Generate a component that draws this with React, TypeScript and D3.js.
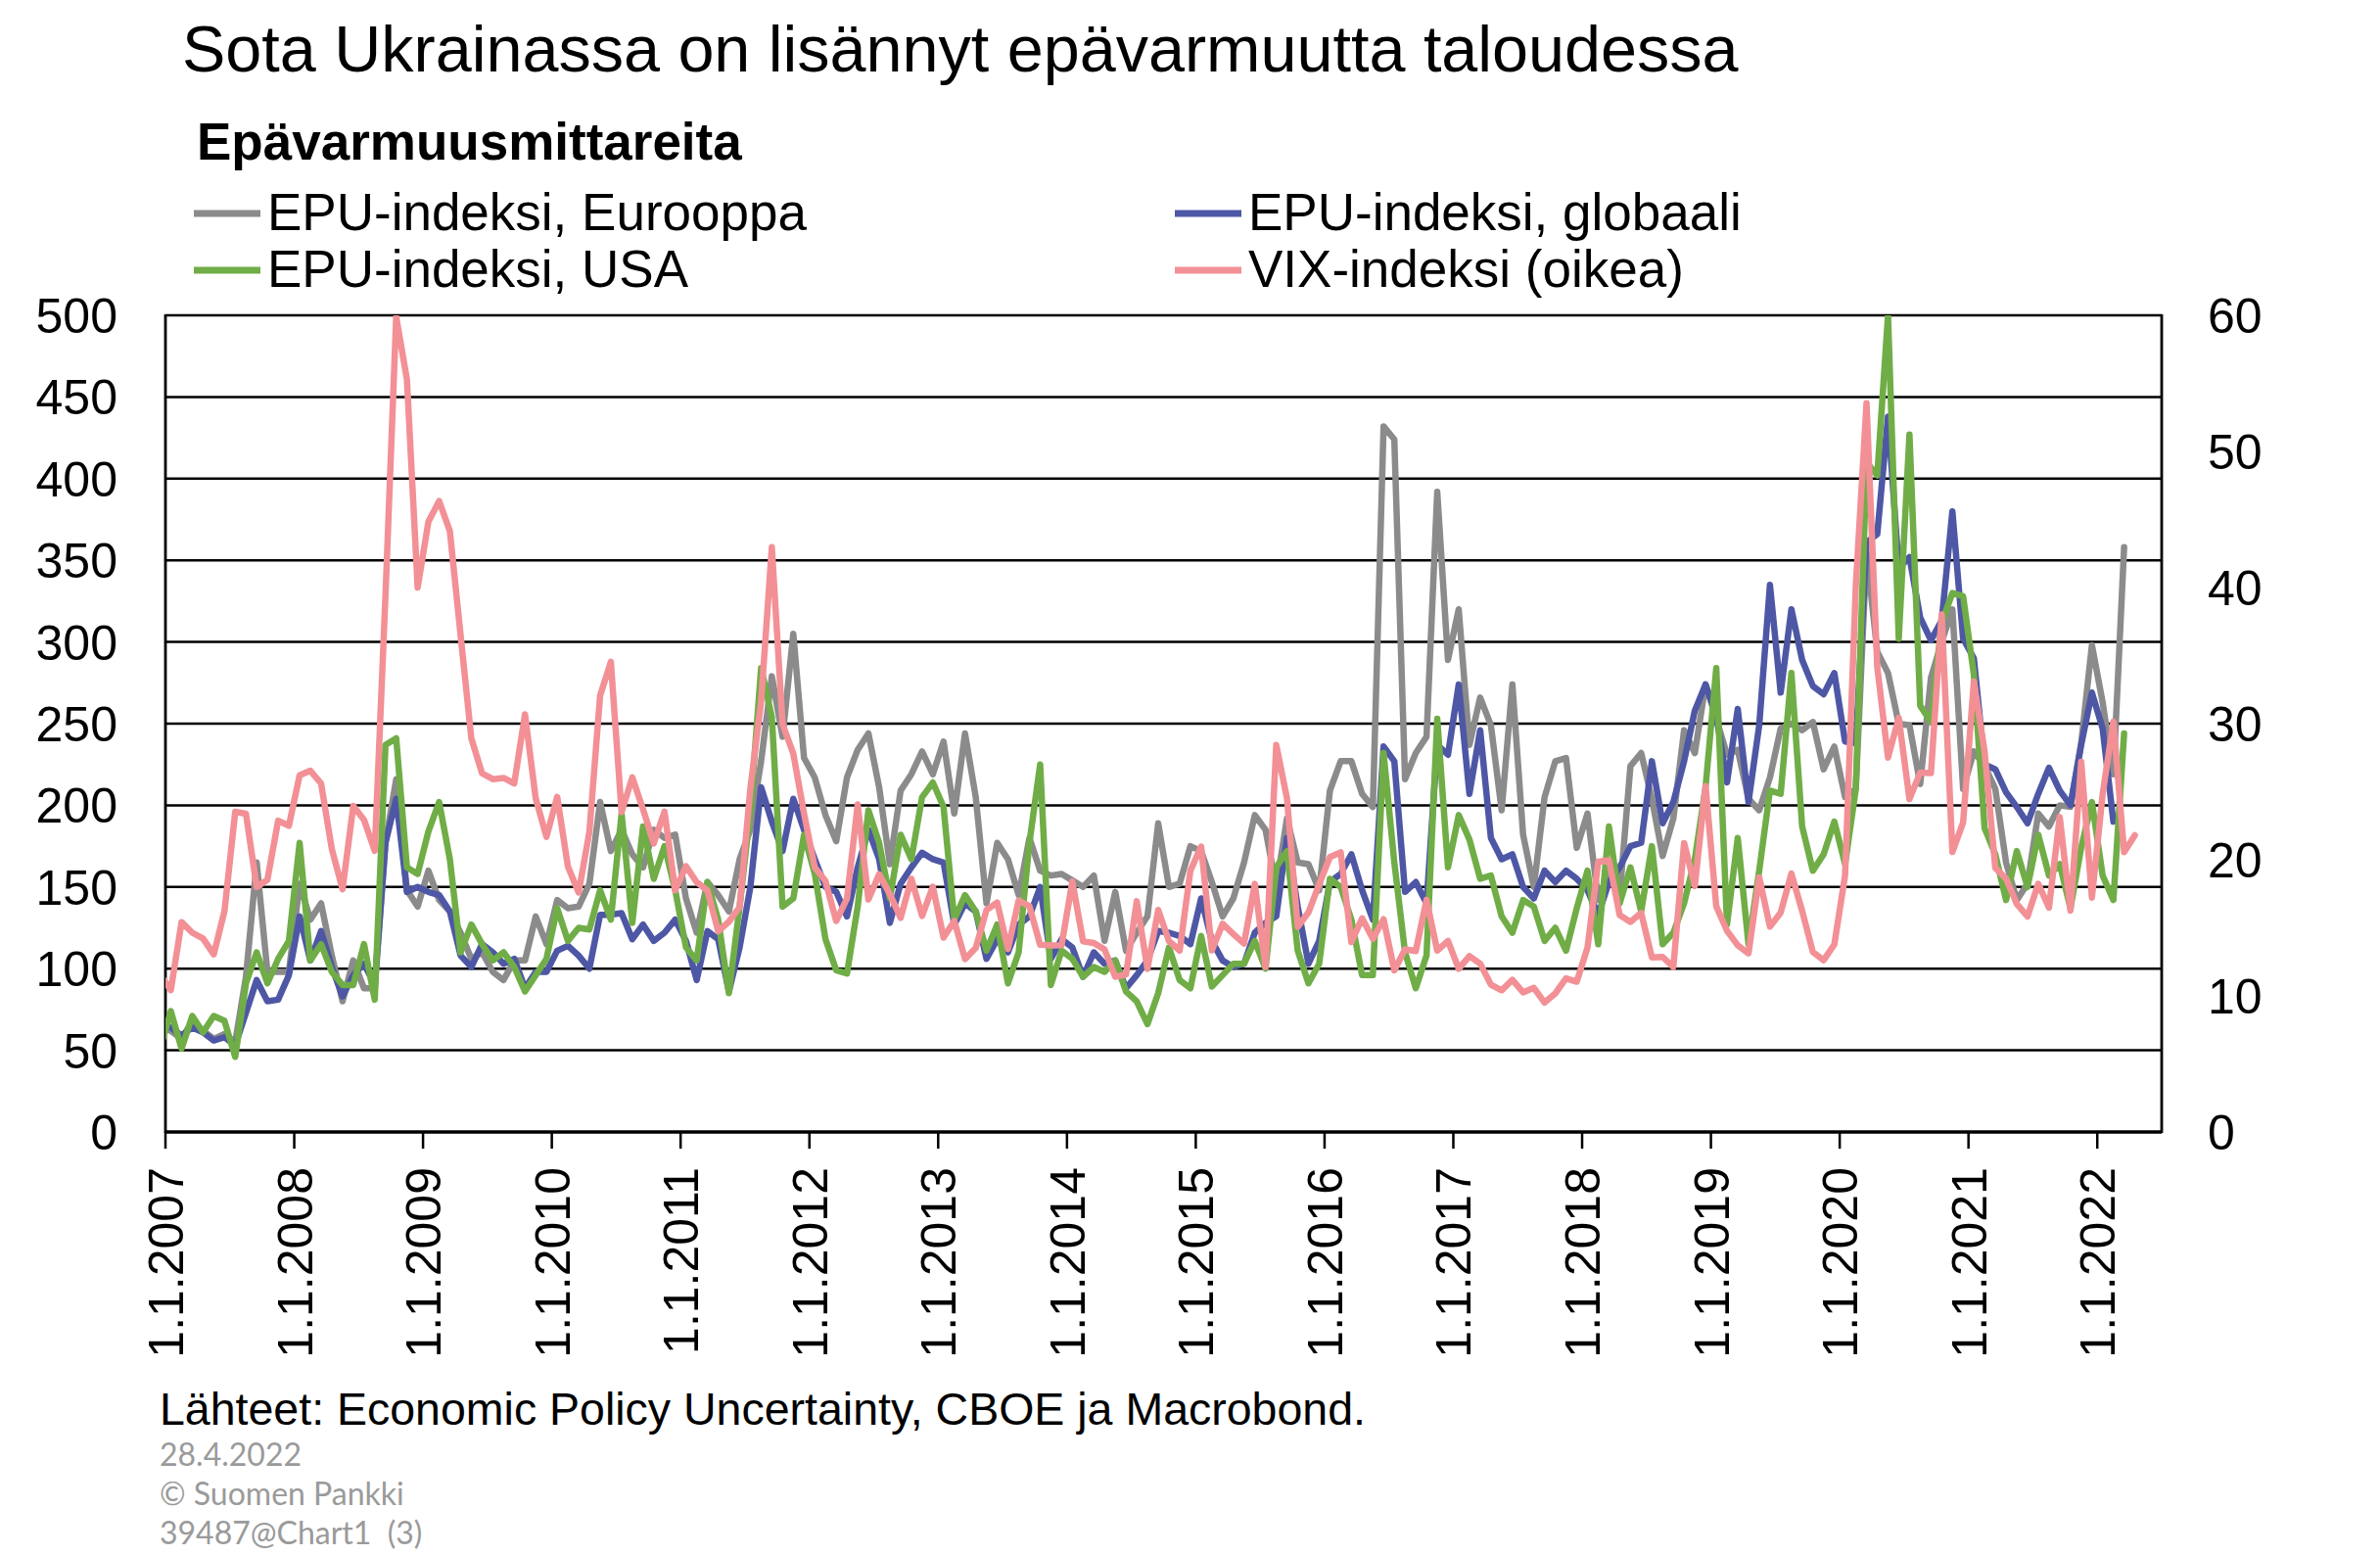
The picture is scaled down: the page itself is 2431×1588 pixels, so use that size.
import React from 'react';
import * as d3 from 'd3';

// Monthly data, first value = Dec 2006 (month index -1), Jan 2007 = index 0
const epuEurope = [
  64,
  62, 57, 68, 62, 57, 60, 55, 95, 165, 98, 98, 98,
  152, 130, 140, 108, 80, 105, 88, 88, 177, 216, 148, 138,
  160, 142, 135, 122, 106, 110, 98, 93, 105, 105, 132, 115,
  142, 137, 138, 152, 202, 172, 185, 170, 162, 185, 180, 182,
  143, 122, 153, 145, 135, 167, 185, 227, 279, 242, 305, 229,
  217, 194, 178, 217, 234, 244, 211, 164, 209, 219, 233, 219,
  239, 195, 244, 205, 140, 177, 167, 145, 180, 160, 157, 158,
  154, 150, 157, 117, 147, 111, 122, 132, 189, 150, 152, 175,
  172, 153, 132, 143, 165, 194, 185, 150, 192, 165, 164, 148,
  209, 227, 227, 207, 199, 432, 424, 216, 232, 242, 392, 289,
  320, 237, 266, 249, 197, 274, 182, 150, 205, 227, 229, 174,
  195, 142, 160, 145, 224, 232, 204, 169, 192, 246, 232, 274,
  253, 231, 234, 204, 197, 217, 247, 250, 246, 251, 222, 236,
  205, 210, 355, 294, 281, 250, 249, 213, 278, 300, 320, 210,
  233, 224, 210, 165, 142, 152, 195, 187, 200, 199, 238, 298,
  263, 219, 358,
];

const epuGlobal = [
  66,
  64, 59, 64, 61, 56, 58, 53, 73, 93, 80, 81, 96,
  132, 105, 123, 101, 83, 96, 103, 90, 177, 204, 147, 150,
  147, 145, 135, 108, 101, 115, 110, 103, 106, 88, 98, 98,
  111, 114, 108, 100, 133, 133, 134, 118, 127, 117, 122, 130,
  117, 93, 123, 118, 86, 113, 150, 211, 190, 172, 204, 185,
  167, 150, 147, 132, 162, 185, 167, 128, 152, 162, 171, 167,
  165, 127, 140, 135, 106, 118, 110, 127, 132, 150, 106, 118,
  113, 95, 110, 103, 105, 88, 96, 105, 123, 122, 120, 115,
  143, 117, 105, 101, 103, 122, 128, 132, 180, 138, 103, 117,
  153, 158, 170, 148, 130, 236, 227, 147, 153, 140, 237, 231,
  274, 207, 246, 180, 167, 170, 150, 143, 160, 153, 160, 155,
  148, 133, 153, 162, 175, 177, 227, 189, 202, 227, 258, 274,
  255, 214, 259, 202, 249, 335, 269, 320, 289, 273, 268, 281,
  239, 238, 361, 366, 438, 345, 352, 315, 301, 313, 380, 302,
  290, 225, 222, 208, 199, 189, 207, 223, 209, 200, 237, 269,
  247, 190,
];

const epuUSA = [
  51,
  74, 51, 71, 61, 71, 68, 46, 91, 110, 91, 106, 117,
  177, 105, 115, 98, 90, 90, 115, 81, 237, 241, 162, 158,
  184, 202, 167, 110, 127, 115, 105, 110, 101, 86, 96, 106,
  137, 117, 125, 124, 148, 130, 195, 128, 187, 155, 175, 148,
  113, 105, 153, 130, 85, 138, 197, 284, 254, 138, 143, 182,
  158, 118, 99, 97, 138, 197, 177, 143, 182, 167, 205, 214,
  199, 130, 145, 135, 111, 127, 91, 110, 177, 225, 90, 111,
  106, 95, 101, 98, 105, 86, 80, 66, 85, 113, 93, 88,
  120, 89, 96, 103, 103, 117, 100, 162, 172, 111, 91, 103,
  155, 150, 130, 96, 96, 232, 165, 110, 88, 108, 253, 162,
  194, 179, 155, 157, 132, 122, 142, 138, 117, 125, 111, 137,
  160, 115, 187, 140, 162, 135, 175, 115, 122, 140, 167, 211,
  284, 127, 180, 115, 160, 209, 207, 281, 187, 160, 170, 190,
  164, 210, 410, 402, 500, 302, 427, 261, 251, 312, 330, 328,
  280, 186, 170, 142, 172, 150, 182, 157, 164, 137, 174, 202,
  157, 142, 244,
];

const vix = [
  11.56,
  10.42, 15.42, 14.64, 14.22, 13.05, 16.23, 23.52, 23.38, 18.0, 18.53, 22.87, 22.5,
  26.2, 26.54, 25.61, 20.79, 17.83, 23.95, 22.94, 20.65, 39.39, 59.89, 55.28, 40.0,
  44.84, 46.35, 44.14, 36.5, 28.92, 26.35, 25.92, 26.01, 25.61, 30.69, 24.51, 21.68,
  24.62, 19.5, 17.59, 22.05, 32.07, 34.54, 23.5, 26.05, 23.7, 21.2, 23.54, 17.75,
  19.53, 18.35, 17.74, 14.75, 15.45, 16.52, 25.25, 31.62, 42.96, 29.96, 27.8, 23.4,
  19.44, 18.43, 15.5, 17.15, 24.06, 17.08, 18.93, 17.47, 15.73, 18.6, 15.87, 18.02,
  14.28, 15.51, 12.7, 13.52, 16.3, 16.86, 13.45, 17.01, 16.6, 13.75, 13.7, 13.72,
  18.41, 14.0, 13.88, 13.41, 11.4, 11.57, 16.95, 11.98, 16.31, 14.03, 13.33, 19.2,
  20.97, 13.34, 15.29, 14.55, 13.84, 18.23, 12.12, 28.43, 24.5, 15.07, 16.13, 18.21,
  20.2, 20.55, 13.95, 15.7, 14.19, 15.63, 11.87, 13.42, 13.29, 17.06, 13.33, 14.04,
  11.99, 12.92, 12.37, 10.82, 10.41, 11.18, 10.26, 10.59, 9.51, 10.18, 11.28, 11.04,
  13.54, 19.85, 19.97, 15.93, 15.43, 16.09, 12.83, 12.86, 12.12, 21.23, 18.07, 25.42,
  16.57, 14.78, 13.71, 13.12, 18.71, 15.08, 16.12, 18.98, 16.24, 13.22, 12.62, 13.78,
  18.84, 40.11, 53.54, 34.15, 27.51, 30.43, 24.46, 26.41, 26.37, 38.02, 20.57, 22.75,
  33.09, 27.95, 19.4, 18.61, 16.76, 15.83, 18.24, 16.48, 23.14, 16.26, 27.19, 17.22,
  24.83, 30.15, 20.56, 21.8,
];

const yearLabels = [
  '1.1.2007', '1.1.2008', '1.1.2009', '1.1.2010', '1.1.2011', '1.1.2012', '1.1.2013', '1.1.2014',
  '1.1.2015', '1.1.2016', '1.1.2017', '1.1.2018', '1.1.2019', '1.1.2020', '1.1.2021', '1.1.2022',
];
const leftTicks = [0, 50, 100, 150, 200, 250, 300, 350, 400, 450, 500];
const rightTicks = [0, 10, 20, 30, 40, 50, 60];

const seriesNames = ['EPU-indeksi, Eurooppa', 'EPU-indeksi, globaali', 'EPU-indeksi, USA', 'VIX-indeksi (oikea)'];
const colors = ['#8b8b8b', '#4e57a5', '#70ad47', '#f29096'];

const FONT = '"Liberation Sans", Arial, Helvetica, sans-serif';

export default function App() {
  const W = 2431;
  const H = 1588;
  const L = 169, R = 2208, T = 322, B = 1156;
  const totalMonths = 186;

  const x = d3.scaleLinear().domain([0, totalMonths]).range([L, R]);
  const yL = d3.scaleLinear().domain([0, 500]).range([B, T]);
  const yR = d3.scaleLinear().domain([0, 60]).range([B, T]);

  // index 0 of arrays = month -1 (Dec 2006); point centred in its month slot
  const mx = (i: number) => x(i - 1 + 0.5);
  const lineLeft = d3.line<number>().x((_, i) => mx(i)).y((d) => yL(d));
  const lineRight = d3.line<number>().x((_, i) => mx(i)).y((d) => yR(d));

  const paths = [
    lineLeft(epuEurope),
    lineLeft(epuGlobal),
    lineLeft(epuUSA),
    lineRight(vix),
  ];

  const sw = 6.5;

  const legendItems = [
    { name: seriesNames[0], color: colors[0], x: 198, y: 235 },
    { name: seriesNames[1], color: colors[1], x: 1200, y: 235 },
    { name: seriesNames[2], color: colors[2], x: 198, y: 293 },
    { name: seriesNames[3], color: colors[3], x: 1200, y: 293 },
  ];

  return (
    <svg
      width={W}
      height={H}
      viewBox={`0 0 ${W} ${H}`}
      style={{ position: 'absolute', left: 0, top: 0, background: '#fff' }}
      fontFamily={FONT}
    >
      <rect x={0} y={0} width={W} height={H} fill="#fff" />
      <defs>
        <clipPath id="plotClip">
          <rect x={L} y={T} width={R - L} height={B - T} />
        </clipPath>
      </defs>

      <text x={186} y={73} fontSize={66.5} fill="#000">
        Sota Ukrainassa on lisännyt epävarmuutta taloudessa
      </text>
      <text x={201} y={163} fontSize={53} fontWeight="bold" fill="#000">
        Epävarmuusmittareita
      </text>

      {legendItems.map((it) => (
        <g key={it.name}>
          <line x1={it.x} x2={it.x + 68} y1={it.y - 17} y2={it.y - 17} stroke={it.color} strokeWidth={7} />
          <text x={it.x + 75} y={it.y} fontSize={53} fill="#000">
            {it.name}
          </text>
        </g>
      ))}

      {/* gridlines */}
      {leftTicks.map((t) => (
        <line key={'g' + t} x1={L} x2={R} y1={yL(t)} y2={yL(t)} stroke="#000" strokeWidth={t === 0 ? 3.5 : 2.5} />
      ))}
      <line x1={L} x2={L} y1={T - 1} y2={B + 1} stroke="#000" strokeWidth={2.8} />
      <line x1={R} x2={R} y1={T - 1} y2={B + 1} stroke="#000" strokeWidth={2.8} />

      {/* x ticks */}
      {yearLabels.map((lab, k) => (
        <line key={'t' + lab} x1={x(k * 12)} x2={x(k * 12)} y1={B} y2={B + 17} stroke="#000" strokeWidth={2.5} />
      ))}

      {/* series */}
      <g clipPath="url(#plotClip)" fill="none" strokeLinejoin="round" strokeLinecap="round">
        {paths.map((p, i) => (
          <path key={i} d={p || ''} stroke={colors[i]} strokeWidth={sw} />
        ))}
      </g>

      {/* left axis labels */}
      {leftTicks.map((t) => (
        <text key={'l' + t} x={120} y={yL(t)} dy="0.36em" fontSize={50} textAnchor="end" fill="#000">
          {t}
        </text>
      ))}
      {/* right axis labels */}
      {rightTicks.map((t) => (
        <text key={'r' + t} x={2255} y={yR(t)} dy="0.36em" fontSize={50} textAnchor="start" fill="#000">
          {t}
        </text>
      ))}

      {/* x labels */}
      {yearLabels.map((lab, k) => {
        const xx = x(k * 12);
        return (
          <text
            key={'x' + lab}
            transform={`translate(${xx},1192) rotate(-90)`}
            dy="0.36em"
            fontSize={50}
            textAnchor="end"
            fill="#000"
          >
            {lab}
          </text>
        );
      })}

      <text x={163} y={1455} fontSize={46.5} fill="#000">
        Lähteet: Economic Policy Uncertainty, CBOE ja Macrobond.
      </text>
      <g fontFamily='Lato, "Open Sans", sans-serif' fontSize={32} fill="#9a9a9a">
        <text x={163} y={1497}>28.4.2022</text>
        <text x={163} y={1537}>© Suomen Pankki</text>
        <text x={163} y={1577} style={{ whiteSpace: 'pre' }}>
          {'39487@Chart1  (3)'}
        </text>
      </g>
    </svg>
  );
}
